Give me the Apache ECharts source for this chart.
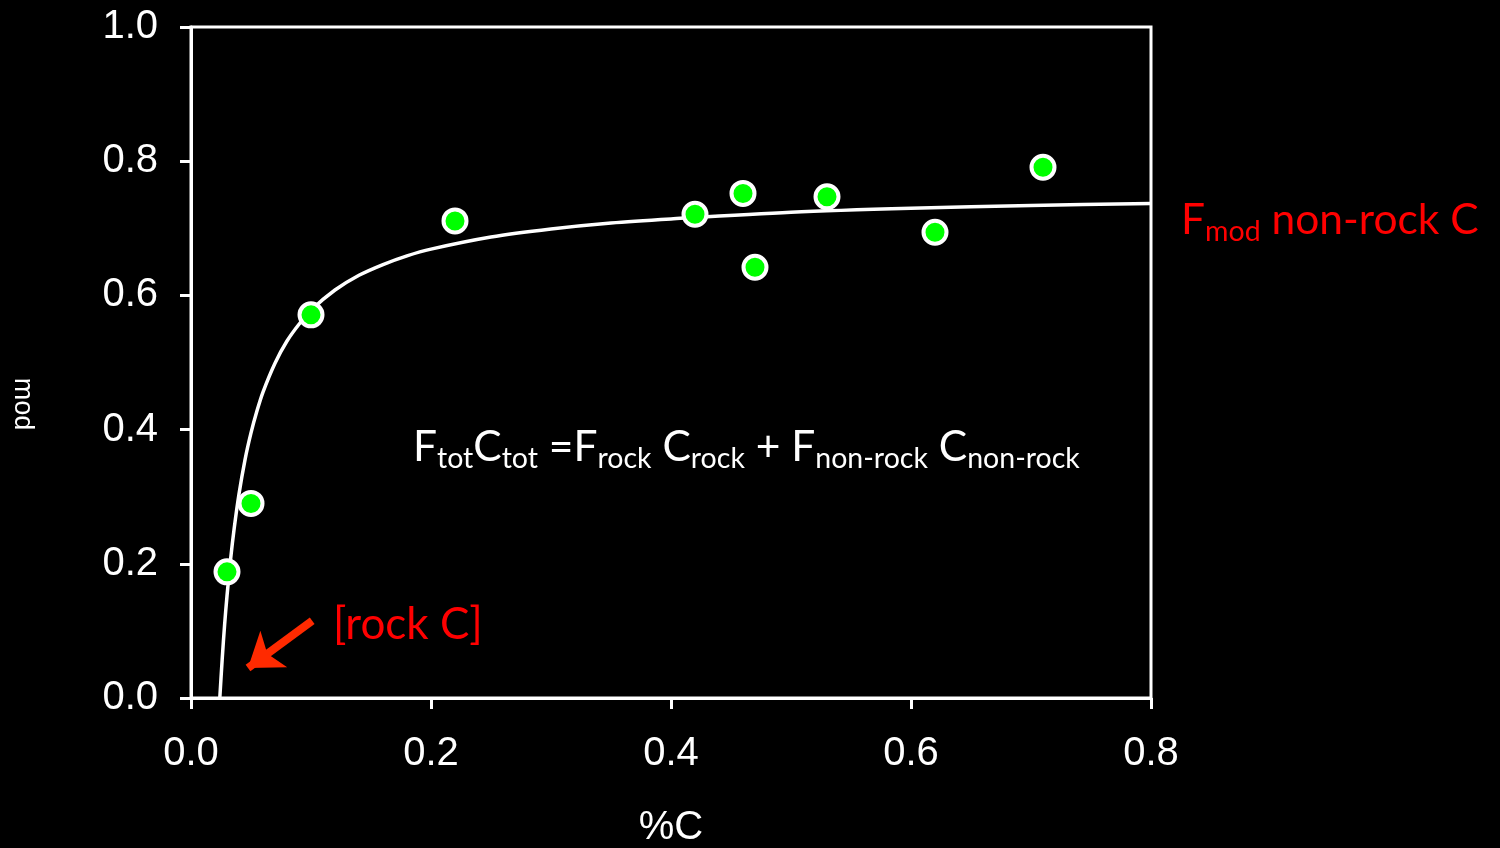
<!DOCTYPE html>
<html>
<head>
<meta charset="utf-8">
<script src="https://cdn.jsdelivr.net/npm/echarts@6/dist/echarts.min.js"></script>
<style>
html,body{margin:0;padding:0;background:#000;}
#chart{width:1500px;height:848px;}
</style>
</head>
<body>
<div id="chart"></div>
<script>
// Measured points (%C, Fmod)
const pointX = [0.030, 0.050, 0.100, 0.220, 0.420, 0.460, 0.470, 0.530, 0.620, 0.710];
const pointY = [0.188, 0.290, 0.571, 0.711, 0.721, 0.752, 0.642, 0.747, 0.694, 0.791];
// Mixing curve
const curveX = [0.024, 0.026, 0.028, 0.030, 0.033, 0.036, 0.040, 0.045, 0.050, 0.055, 0.060, 0.070, 0.080, 0.090, 0.100, 0.120, 0.140, 0.160, 0.180, 0.200, 0.250, 0.300, 0.350, 0.400, 0.500, 0.600, 0.700, 0.800];
const curveY = [0.000, 0.058, 0.109, 0.152, 0.207, 0.253, 0.304, 0.355, 0.395, 0.428, 0.456, 0.499, 0.532, 0.557, 0.578, 0.608, 0.630, 0.646, 0.659, 0.669, 0.687, 0.699, 0.708, 0.714, 0.724, 0.730, 0.734, 0.737];
// Axis ticks
const xTicks = [0.0, 0.2, 0.4, 0.6, 0.8];
const yTicks = [0.0, 0.2, 0.4, 0.6, 0.8, 1.0];
// Arrow annotation (data coords: tail, tip)
const arrowFrom = [0.101, 0.115];
const arrowTo = [0.0475, 0.0447];

const chart = echarts.init(document.getElementById('chart'));
const annoFont = 'Lato';
function mainStyle(c) { return {fontFamily: annoFont, fontSize: 42.5, lineHeight: 52, fill: c, color: c}; }
function subStyle(c) { return {fontFamily: annoFont, fontSize: 28.5, lineHeight: 24, verticalAlign: 'bottom', fill: c, color: c}; }

chart.setOption({
  backgroundColor: '#000',
  animation: false,
  grid: {left: 191, right: 349, top: 27, bottom: 150, outerBoundsMode: 'none', containLabel: false,
         show: true, borderColor: '#fff', borderWidth: 3, backgroundColor: 'transparent'},
  xAxis: {
    type: 'value', min: xTicks[0], max: xTicks[xTicks.length - 1], interval: 0.2,
    name: '%C', nameLocation: 'middle', nameGap: 110,
    nameTextStyle: {color: '#fff', fontSize: 40, fontFamily: 'Liberation Sans'},
    axisLine: {show: true, onZero: false, lineStyle: {color: '#fff', width: 3}},
    axisTick: {show: true, length: 11, lineStyle: {color: '#fff', width: 3}},
    axisLabel: {color: '#fff', fontSize: 40, fontFamily: 'Liberation Sans', margin: 36, formatter: v => v.toFixed(1)},
    splitLine: {show: false}
  },
  yAxis: {
    type: 'value', min: yTicks[0], max: yTicks[yTicks.length - 1], interval: 0.2,
    axisLine: {show: true, onZero: false, lineStyle: {color: '#fff', width: 3}},
    axisTick: {show: true, length: 11, lineStyle: {color: '#fff', width: 3}},
    axisLabel: {color: '#fff', fontSize: 40, fontFamily: 'Liberation Sans', margin: 33, formatter: v => v.toFixed(1)},
    splitLine: {show: false}
  },
  series: [
    {
      type: 'line', data: curveX.map((x, i) => [x, curveY[i]]),
      showSymbol: false, smooth: 0.3, lineStyle: {color: '#fff', width: 3.5}, z: 2, silent: true
    },
    {
      type: 'scatter', data: pointX.map((x, i) => [x, pointY[i]]),
      symbolSize: 23, itemStyle: {color: '#00ff00', borderColor: '#fff', borderWidth: 4, opacity: 1}, z: 3,
      markLine: {
        silent: true, symbol: ['none', 'arrow'], symbolSize: [34, 32],
        label: {show: false},
        lineStyle: {color: '#ff2a00', width: 8, type: 'solid', opacity: 1},
        data: [[{coord: arrowFrom}, {coord: arrowTo}]]
      }
    }
  ],
  graphic: [
    {type: 'text', x: 22, y: 404, rotation: -Math.PI / 2,
     style: {text: 'mod', fill: '#fff', font: '27px "Liberation Sans"', align: 'center', verticalAlign: 'middle'}},
    {type: 'text', x: 333, y: 625,
     style: {text: '[rock C]', fill: '#ff0000', font: '44px Lato', align: 'left', verticalAlign: 'middle'}},
    {type: 'text', x: 1181, y: 194,
     style: {text: '{m|F}{s|mod}{m| non-rock C}', fill: '#ff0000', align: 'left', verticalAlign: 'top',
       rich: {m: mainStyle('#ff0000'), s: subStyle('#ff0000')}}},
    {type: 'text', x: 413, y: 421,
     style: {text: '{m|F}{s|tot}{m|C}{s|tot}{m| =F}{s|rock}{m| C}{s|rock}{m| + F}{s|non-rock}{m| C}{s|non-rock}',
       fill: '#fff', align: 'left', verticalAlign: 'top', rich: {m: mainStyle('#fff'), s: subStyle('#fff')}}}
  ]
});
</script>
</body>
</html>
